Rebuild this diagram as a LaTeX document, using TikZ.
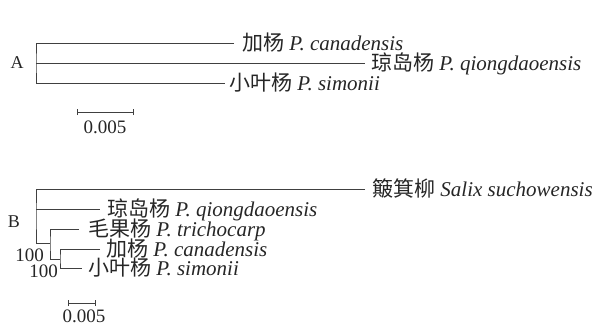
\documentclass[tikz,border=0pt]{standalone}
\usepackage{fontspec}
\setmainfont{Liberation Serif}
\newfontfamily\cjk{Noto Sans CJK SC}
\begin{document}
\begin{tikzpicture}[x=1pt, y=-1pt,
    branch/.style={draw=black!75, line width=0.9pt},
    taxon/.style={anchor=base west, yshift=-7pt, inner sep=0pt, text height=13pt, text depth=3pt,
        text=black!85, font=\fontsize{21}{21}\selectfont},
    boot/.style={inner sep=0pt, text height=12pt, text depth=0pt, text=black!85, font=\fontsize{19}{19}\selectfont},
    panel/.style={inner sep=0pt, text=black!85, font=\fontsize{18}{18}\selectfont}]
    \useasboundingbox (0,0) rectangle (616,327);

    % Tree A
    \coordinate (rA) at (36,63);
    \coordinate (tA1) at (234,43);
    \coordinate (tA2) at (365,63);
    \coordinate (tA3) at (225,83);
    \draw[branch] (tA1) -| (rA) |- (tA3);
    \draw[branch] (rA) -- (tA2);

    % Taxa of A
    \node[taxon] (canA) at ([xshift=8]tA1) {{\cjk 加杨} \textit{P. canadensis}};
    \node[taxon] (qioA) at ([xshift=6]tA2) {{\cjk 琼岛杨} \textit{P. qiongdaoensis}};
    \node[taxon] (simA) at ([xshift=4]tA3) {{\cjk 小叶杨} \textit{P. simonii}};
    \node[panel] (labA) at (17,63) {A};

    % Scale bar A
    \coordinate (sA1) at (77,112);
    \coordinate (sA2) at (133,112);
    \draw[branch] (sA1) -- (sA2);
    \draw[branch] ([yshift=-3]sA1) -- ([yshift=3]sA1);
    \draw[branch] ([yshift=-3]sA2) -- ([yshift=3]sA2);
    \node[boot] (barA) at (105,127) {0.005};

    % Tree B
    \coordinate (rB) at (36,216);
    \coordinate (tB1) at (365,189);
    \coordinate (tB2) at (100,209);
    \coordinate (nB1) at (50,243);
    \coordinate (tB3) at (79,229);
    \coordinate (nB2) at (60,259);
    \coordinate (tB4) at (100,249);
    \coordinate (tB5) at (82,268);
    \draw[branch] (tB1) -| (rB) |- (nB1);
    \draw[branch] (rB |- tB2) -- (tB2);
    \draw[branch] (tB3) -| (nB1) |- (nB2);
    \draw[branch] (tB4) -| (nB2) |- (tB5);

    % Taxa of B
    \node[taxon] (salB) at ([xshift=7]tB1) {{\cjk 簸箕柳} \textit{Salix suchowensis}};
    \node[taxon] (qioB) at ([xshift=7]tB2) {{\cjk 琼岛杨} \textit{P. qiongdaoensis}};
    \node[taxon] (triB) at ([xshift=9]tB3) {{\cjk 毛果杨} \textit{P. trichocarp}};
    \node[taxon] (canB) at ([xshift=6]tB4) {{\cjk 加杨} \textit{P. canadensis}};
    \node[taxon] (simB) at ([xshift=6]tB5) {{\cjk 小叶杨} \textit{P. simonii}};
    \node[panel] (labB) at (14,222) {B};

    % Bootstrap values
    \node[boot, anchor=east] (bs1) at (44,255.5) {100};
    \node[boot, anchor=east] (bs2) at (58,271) {100};

    % Scale bar B
    \coordinate (sB1) at (68,303);
    \coordinate (sB2) at (95,303);
    \draw[branch] (sB1) -- (sB2);
    \draw[branch] ([yshift=-3]sB1) -- ([yshift=3]sB1);
    \draw[branch] ([yshift=-3]sB2) -- ([yshift=3]sB2);
    \node[boot] (barB) at (84,316) {0.005};
\end{tikzpicture}
\end{document}
